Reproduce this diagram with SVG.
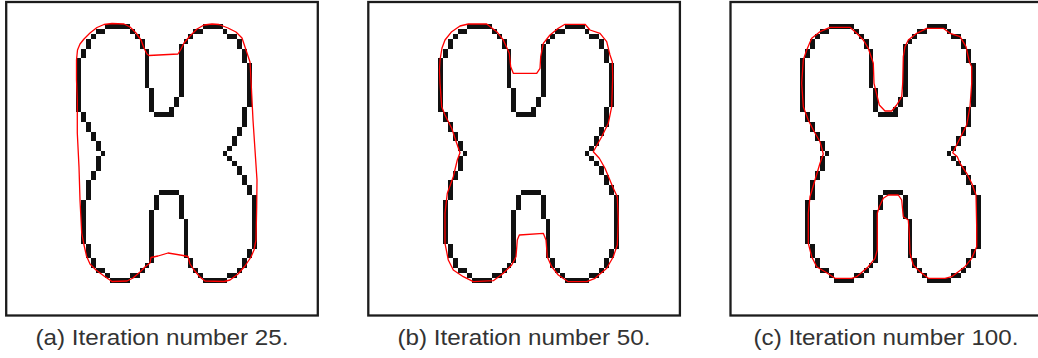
<svg xmlns="http://www.w3.org/2000/svg" xmlns:xlink="http://www.w3.org/1999/xlink" width="1038" height="358" viewBox="0 0 1038 358">
<style>
.frame{fill:none;stroke:#1c1c1c;stroke-width:2.3}
.px{fill:#111}
.snake{fill:none;stroke:#f00;stroke-width:1.3;stroke-linejoin:round}
.cap{font-family:"Liberation Sans",Arial,sans-serif;font-size:22px;fill:#333;text-anchor:middle}
</style>
<defs>
<g id="shape" class="px" shape-rendering="crispEdges" transform="translate(76.2,24.2) scale(4.88)">
<rect x="6" y="0" width="5" height="1"/><rect x="4" y="1" width="2" height="1"/><rect x="11" y="1" width="1" height="1"/>
<rect x="3" y="2" width="1" height="1"/><rect x="12" y="2" width="1" height="1"/><rect x="2" y="3" width="1" height="2"/>
<rect x="13" y="3" width="1" height="2"/><rect x="1" y="5" width="1" height="2"/><rect x="14" y="5" width="1" height="8"/>
<rect x="0" y="7" width="1" height="11"/><rect x="15" y="13" width="1" height="5"/><rect x="16" y="18" width="4" height="1"/>
<rect x="19" y="17" width="1" height="1"/><rect x="20" y="15" width="1" height="2"/><rect x="21" y="4" width="1" height="11"/>
<rect x="22" y="3" width="1" height="1"/><rect x="23" y="2" width="1" height="1"/><rect x="24" y="1" width="2" height="1"/>
<rect x="26" y="0" width="4" height="1"/><rect x="30" y="1" width="1" height="1"/><rect x="31" y="2" width="2" height="1"/>
<rect x="33" y="3" width="1" height="2"/><rect x="34" y="5" width="1" height="3"/><rect x="35" y="8" width="1" height="9"/>
<rect x="34" y="17" width="1" height="4"/><rect x="33" y="21" width="1" height="2"/><rect x="32" y="23" width="1" height="2"/>
<rect x="31" y="25" width="1" height="1"/><rect x="30" y="26" width="1" height="1"/><rect x="31" y="27" width="1" height="1"/>
<rect x="32" y="28" width="1" height="1"/><rect x="33" y="29" width="1" height="2"/><rect x="34" y="31" width="1" height="2"/>
<rect x="35" y="33" width="1" height="2"/><rect x="36" y="35" width="1" height="11"/><rect x="35" y="46" width="1" height="2"/>
<rect x="34" y="48" width="1" height="2"/><rect x="33" y="50" width="1" height="1"/><rect x="31" y="51" width="2" height="1"/>
<rect x="26" y="52" width="5" height="1"/><rect x="25" y="51" width="1" height="1"/><rect x="24" y="50" width="1" height="1"/>
<rect x="23" y="48" width="1" height="2"/><rect x="22" y="40" width="1" height="8"/><rect x="21" y="35" width="1" height="5"/>
<rect x="17" y="34" width="4" height="1"/><rect x="16" y="35" width="1" height="3"/><rect x="15" y="38" width="1" height="11"/>
<rect x="14" y="49" width="1" height="1"/><rect x="13" y="50" width="1" height="1"/><rect x="11" y="51" width="2" height="1"/>
<rect x="7" y="52" width="4" height="1"/><rect x="6" y="51" width="1" height="1"/><rect x="4" y="50" width="2" height="1"/>
<rect x="3" y="48" width="1" height="2"/><rect x="2" y="45" width="1" height="3"/><rect x="1" y="36" width="1" height="9"/>
<rect x="2" y="32" width="1" height="4"/><rect x="3" y="30" width="1" height="2"/><rect x="4" y="27" width="1" height="3"/>
<rect x="5" y="26" width="1" height="1"/><rect x="4" y="24" width="1" height="2"/><rect x="3" y="22" width="1" height="2"/>
<rect x="2" y="20" width="1" height="2"/><rect x="1" y="18" width="1" height="2"/>
</g>
</defs>
<rect width="1038" height="358" fill="#fff"/>
<g id="panel-a">
<rect class="frame" x="6.2" y="2" width="311.6" height="313.5"/>
<use href="#shape" xlink:href="#shape"/>
<path class="snake" d="M76.5,60 L77.5,50 L80,44 L84,39 L90,33 L97,27.5 L104,24.5 L112,23.5 L124,24 L130,27 L136,33 L141,40 L144,48 L147,54 L149,55.5 L178,54 L181,49 L184,43 L190,36 L197,29 L204,25 L212,24 L219,24.5 L228,28 L236,32 L242,38 L245,47 L248,56 L250,62 L251,80 L252,100 L253,120 L255,150 L257,180 L256.7,207 L256,240 L254,250 L251,257 L245,266 L238,274 L230,280 L224,281.5 L205,281 L200,277 L194,270 L190,264 L188,256.5 L183,255.5 L168,253 L158,256 L151,257.5 L150,263 L145,267 L140,272 L133,278 L127,281 L112,281.5 L104,276 L96,270 L90,264 L86.5,256 L84,245 L81.7,233 L80,200 L79,167 L77.3,133 L77.3,100 L76.5,80 Z"/>
<text class="cap" x="162" y="345" textLength="253" lengthAdjust="spacingAndGlyphs">(a) Iteration number 25.</text>
</g>
<g id="panel-b">
<rect class="frame" x="368.3" y="2" width="311.6" height="313.5"/>
<use href="#shape" xlink:href="#shape" transform="translate(362,0)"/>
<path class="snake" d="M440,60 L442,48 L445,40 L451.7,31.7 L460,26 L468.3,24 L486.7,24 L496.7,31.7 L503.3,40 L509.3,53.3 L510.7,66.7 L513.3,73.3 L536.7,73.3 L540,68.3 L540.7,56.7 L543.3,43.3 L550,35 L558.3,28.3 L565,24.3 L585,24.3 L590,30 L600,33.3 L606.7,41.7 L610,55 L612.3,61.7 L612.7,76.7 L611.7,106.7 L608.3,123.3 L601.7,136.7 L593.3,151.7 L599.3,158.3 L605,168.3 L613.3,188.3 L617.3,196.7 L618.3,220 L617.3,245 L613.3,256.7 L606.7,268.3 L595,278.3 L586.7,281.7 L568.3,281.7 L558.3,275 L551.7,266.7 L547.3,256.7 L546,240 L543.3,233.3 L519.3,235 L517.3,240 L516,256.7 L511.7,265 L503.3,273.3 L493.3,280.7 L473.3,281.7 L463.3,276.7 L453.3,270 L448.3,260 L445,243.3 L445,213.3 L447.3,193.3 L453.3,176.7 L457.3,160 L460,152.7 L456.7,143.3 L451.7,128.3 L445,115 L441.7,106.7 L440,83 L439.5,70 Z"/>
<text class="cap" x="524" y="345" textLength="253" lengthAdjust="spacingAndGlyphs">(b) Iteration number 50.</text>
</g>
<g id="panel-c">
<rect class="frame" x="730.5" y="2" width="311.6" height="313.5"/>
<use href="#shape" xlink:href="#shape" transform="translate(724,0)"/>
<path class="snake" d="M803.3,106.7 L801.7,83.3 L803.3,60 L806.7,50 L811.7,38.3 L820,31.7 L830,27.3 L850,27.3 L856.7,33.3 L863.3,40 L868.3,48.3 L873.3,63.3 L874,83.3 L879.3,105 L885,111 L891.7,111 L896.7,105 L901.7,96.7 L902.7,83.3 L903.3,56.7 L905,46.7 L908.3,40 L916.7,33.3 L926.7,28.3 L943.3,28.3 L950,33.3 L960,36.7 L966,46.7 L969.3,61.7 L971.7,66.7 L971.7,83.3 L970,106.7 L966.7,125 L960,138.3 L952.7,152.7 L957.3,156.7 L960,163.3 L966.7,173.3 L971.7,183.3 L976,195 L976.7,226.7 L976.7,246.7 L971.7,258.3 L965,266.7 L951.7,276.7 L945,278.3 L928.3,278.3 L920,271.7 L913.3,265 L910,253.3 L909.3,233.3 L908.3,220 L903.3,216.7 L901.7,200 L898.3,195 L888.3,195 L883.3,198.3 L879.3,206.7 L877.3,213.3 L877.3,250 L875,258.3 L868.3,266.7 L856.7,276.7 L851.7,278.3 L835,278.3 L826.7,272.7 L816.7,266.7 L811.7,256.7 L808.3,243.3 L808.3,213.3 L810,196.7 L815,180 L820,163.3 L823.3,154 L820,141.7 L813.3,130 L808.3,120 Z"/>
<text class="cap" x="886" y="345" textLength="265" lengthAdjust="spacingAndGlyphs">(c) Iteration number 100.</text>
</g>
</svg>
